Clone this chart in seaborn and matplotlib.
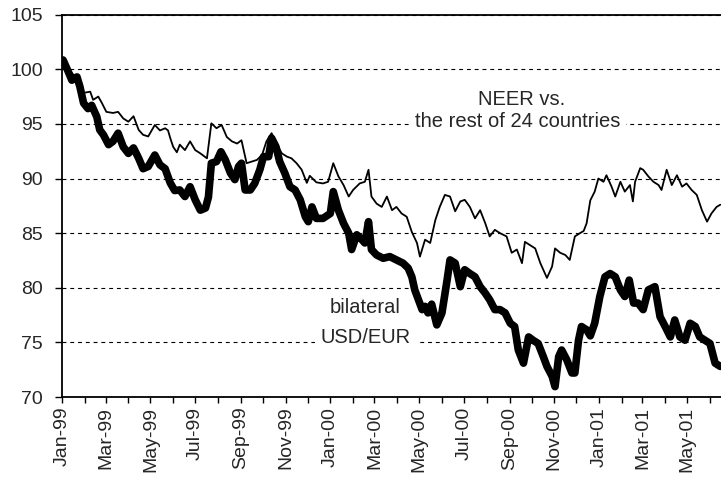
import pandas as pd
import matplotlib.pyplot as plt
import matplotlib.dates as mdates
import seaborn as sns

# days since 1 Jan 1999, index values (Jan 1999 = 100)
neer_days = [1, 10, 15, 22, 26, 38, 42, 49, 54, 60,
             69, 76, 83, 90, 97, 104, 110, 117, 126, 133,
             140, 144, 147, 151, 156, 160, 167, 174, 181, 188,
             197, 203, 210, 217, 224, 231, 238, 244, 251, 258,
             265, 272, 278, 285, 292, 299, 306, 312, 319, 326,
             333, 337, 346, 355, 362, 369, 376, 383, 390, 396,
             405, 412, 417, 421, 428, 435, 442, 449, 455, 462,
             469, 476, 483, 487, 494, 501, 508, 514, 521, 528,
             535, 542, 548, 555, 562, 569, 576, 582, 589, 596,
             605, 612, 619, 626, 630, 637, 644, 651, 660, 667,
             671, 678, 685, 691, 698, 705, 710, 714, 719, 725,
             730, 737, 741, 748, 753, 760, 766, 773, 777, 780,
             787, 791, 798, 805, 812, 816, 823, 830, 837, 844,
             850, 857, 864, 871, 878, 884, 891, 896]
neer_vals = [101.0, 99.9, 99.5, 99.0, 97.8, 97.95, 97.2, 97.5, 96.9, 96.1,
             96.0, 96.1, 95.5, 95.2, 95.7, 94.45, 94.0, 93.85, 94.9, 94.4,
             94.6, 94.4, 93.7, 92.9, 92.4, 93.1, 92.6, 93.4, 92.6, 92.3,
             91.85, 95.05, 94.6, 94.9, 93.8, 93.4, 93.2, 93.5, 91.4, 91.55,
             91.7, 92.15, 93.4, 94.15, 93.1, 92.3, 92.0, 91.85, 91.4, 90.8,
             89.6, 90.25, 89.65, 89.55, 89.7, 91.4, 90.2, 89.4, 88.35, 88.95,
             89.55, 89.7, 90.8, 88.35, 87.7, 87.4, 88.35, 87.1, 87.4, 86.8,
             86.5, 85.1, 84.1, 82.85, 84.4, 84.1, 86.2, 87.4, 88.5, 88.35,
             87.0, 87.9, 88.05, 87.4, 86.35, 87.1, 85.9, 84.7, 85.3, 85.0,
             84.7, 83.2, 83.5, 82.25, 84.2, 83.9, 83.6, 82.25, 80.9, 81.95,
             83.6, 83.2, 83.0, 82.55, 84.7, 85.0, 85.2, 85.9, 88.0, 88.8,
             90.0, 89.7, 90.3, 89.25, 88.35, 89.7, 88.8, 89.4, 87.9, 89.7,
             90.95, 90.8, 90.2, 89.7, 89.4, 88.95, 90.8, 89.4, 90.3, 89.25,
             89.55, 88.95, 88.5, 87.1, 86.05, 86.8, 87.4, 87.6]

usd_days = [1, 8, 13, 20, 24, 29, 35, 40, 47, 51,
            56, 63, 69, 76, 83, 90, 97, 104, 110, 117,
            126, 133, 140, 147, 153, 160, 167, 174, 181, 188,
            195, 199, 203, 210, 216, 222, 229, 235, 240, 244,
            249, 256, 262, 269, 274, 281, 285, 291, 296, 303,
            310, 317, 324, 331, 335, 340, 346, 355, 365, 369,
            376, 383, 390, 394, 401, 408, 412, 417, 421, 428,
            437, 446, 455, 464, 471, 476, 480, 485, 490, 494,
            498, 503, 510, 517, 524, 528, 535, 542, 548, 555,
            562, 569, 576, 582, 589, 596, 603, 610, 616, 621,
            628, 635, 641, 648, 655, 660, 667, 671, 676, 680,
            687, 694, 698, 703, 707, 714, 719, 725, 732, 739,
            746, 753, 760, 766, 772, 778, 784, 791, 798, 807,
            814, 821, 828, 834, 841, 848, 855, 862, 868, 875,
            882, 889, 896]
usd_vals = [100.85, 99.8, 99.0, 99.3, 98.4, 96.9, 96.4, 96.7, 95.65, 94.45,
            94.0, 93.1, 93.4, 94.15, 92.9, 92.3, 92.8, 91.85, 90.9, 91.1,
            92.15, 91.25, 90.9, 89.6, 88.9, 88.95, 88.35, 89.25, 88.05, 87.1,
            87.3, 88.3, 91.4, 91.55, 92.45, 91.7, 90.5, 89.9, 91.1, 91.4,
            88.95, 88.95, 89.55, 90.8, 92.0, 92.0, 93.7, 92.9, 91.55, 90.5,
            89.25, 88.95, 88.05, 86.5, 86.05, 87.4, 86.35, 86.35, 86.8, 88.8,
            87.1, 85.9, 85.0, 83.5, 84.85, 84.4, 84.1, 86.05, 83.5, 83.0,
            82.7, 82.85, 82.55, 82.25, 81.8, 81.0, 79.8, 78.9, 78.0, 78.3,
            77.7, 78.5, 76.6, 77.7, 80.7, 82.55, 82.25, 80.1, 81.65, 81.3,
            81.0, 80.1, 79.5, 78.9, 78.0, 78.0, 77.7, 76.75, 76.45, 74.3,
            73.1, 75.5, 75.2, 74.9, 73.7, 72.8, 71.9, 70.95, 73.7, 74.3,
            73.4, 72.2, 72.2, 75.2, 76.45, 76.15, 75.6, 76.75, 79.2, 81.0,
            81.3, 81.0, 79.8, 79.2, 80.7, 78.6, 78.6, 78.0, 79.8, 80.1,
            77.35, 76.45, 75.5, 77.05, 75.5, 75.2, 76.75, 76.45, 75.5, 75.2,
            74.9, 73.1, 72.8]

y_ticks = [70, 75, 80, 85, 90, 95, 100, 105]

start = pd.Timestamp('1999-01-01')
neer = pd.DataFrame({'date': start + pd.to_timedelta(neer_days, unit='D'), 'index': neer_vals})
usd = pd.DataFrame({'date': start + pd.to_timedelta(usd_days, unit='D'), 'index': usd_vals})

sns.set_style('white')
plt.rcParams['font.family'] = ['Liberation Sans', 'DejaVu Sans']

fig = plt.figure(figsize=(7.21, 4.86), dpi=100)
ax = fig.add_axes([0.0864, 0.1831, 0.9136, 0.7868])

sns.lineplot(data=usd, x='date', y='index', color='black', linewidth=5.5, ax=ax, zorder=3)
sns.lineplot(data=neer, x='date', y='index', color='black', linewidth=1.3, ax=ax, zorder=4)

ax.set_xlim(start, pd.Timestamp('2001-06-16'))
ax.set_ylim(70, 105)
ax.set_yticks(y_ticks)
ax.set_xlabel('')
ax.set_ylabel('')

ax.xaxis.set_major_locator(mdates.MonthLocator(bymonth=[1, 3, 5, 7, 9, 11]))
ax.xaxis.set_major_formatter(mdates.DateFormatter('%b-%y'))
ax.xaxis.set_minor_locator(mdates.MonthLocator())
ax.tick_params(axis='x', which='both', direction='out', length=4, width=1, color='black',
               labelsize=14, rotation=90, pad=3, bottom=True)
ax.tick_params(axis='y', direction='out', length=5, width=1, color='black',
               labelsize=14, pad=9, left=True)

ax.yaxis.grid(True, linestyle=(0, (3.5, 3.5)), color='black', linewidth=0.8)
ax.set_axisbelow(True)

for side in ['left', 'bottom', 'top']:
    ax.spines[side].set_color('black')
    ax.spines[side].set_linewidth(1.3)
ax.spines['right'].set_visible(False)

box = dict(facecolor='white', edgecolor='none', pad=4)
ax.text(0.698, 0.7636, 'NEER vs.', transform=ax.transAxes, ha='center', va='baseline',
        fontsize=14.5, zorder=2.5, bbox=box)
ax.text(0.692, 0.706, 'the rest of 24 countries', transform=ax.transAxes, ha='center',
        va='baseline', fontsize=14.5, zorder=2.5, bbox=box)
ax.text(0.4595, 0.221, 'bilateral', transform=ax.transAxes, ha='center', va='baseline',
        fontsize=14.5, zorder=2.5, bbox=box)
ax.text(0.461, 0.142, 'USD/EUR', transform=ax.transAxes, ha='center', va='baseline',
        fontsize=14.5, zorder=2.5, bbox=box)

# title sits above the visible area, only its lowest strokes show
fig.text(0.636, 1.0105, '(daily data)', ha='center', va='baseline', fontsize=14)

fig.savefig('out.png', dpi=100)
